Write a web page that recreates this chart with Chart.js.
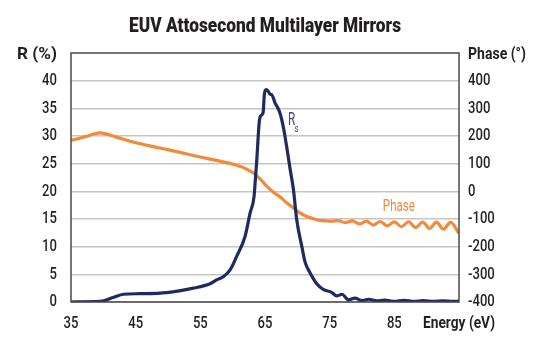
<!DOCTYPE html>
<html>
<head>
<meta charset="UTF-8">
<title>EUV Attosecond Multilayer Mirrors</title>
<script src="https://cdn.jsdelivr.net/npm/chart.js@4"></script>
<style>
  html, body { margin: 0; padding: 0; background: #fff; }
  #wrap { width: 556px; height: 348px; position: relative; }
</style>
</head>
<body>
<div id="wrap"><canvas id="mirrorChart"></canvas></div>
<script>
// Reflectivity (Rs) vs photon energy
const rEnergy = [35, 39.5, 41.5, 43.1, 45.7, 49.8, 53.9, 56.5, 57.5, 58.6, 59.6, 60.6, 61.9, 62.7, 63.3, 63.5, 63.7, 64.1, 64.3, 64.7, 64.9, 65.15, 65.5, 65.8, 66.0, 66.55, 67.3, 67.8, 68.35, 68.9, 69.4, 69.9, 70.7, 71.2, 72.0, 73.0, 74.0, 75.3, 76.1, 76.9, 77.9, 78.9, 80.0, 81.0, 82.3, 83.5, 85.0, 86.5, 88.0, 89.5, 91.0, 92.5, 94.0, 95];
const rValues = [0, 0.1, 0.8, 1.4, 1.5, 1.7, 2.5, 3.3, 4.0, 4.6, 5.8, 8.2, 11.8, 16.1, 19.0, 22.0, 25.1, 32.4, 33.6, 34.2, 37.5, 38.4, 38.1, 37.5, 37.5, 36.0, 34.2, 31.8, 28.1, 23.9, 20.3, 14.9, 10.0, 7.2, 5.2, 3.3, 2.3, 1.75, 1.1, 1.4, 0.4, 0.7, 0.25, 0.5, 0.2, 0.35, 0.1, 0.3, 0.1, 0.25, 0.1, 0.2, 0.1, 0.15];

// Reflection phase (degrees)
const phaseEnergy = [35, 37, 39.5, 42, 44.1, 47, 50.3, 55, 58, 60.5, 62.2, 63.2, 64.2, 65.3, 66.3, 67.3, 68.4, 69.4, 70.4, 71.45, 72.5, 73.5, 74.5, 75.4, 76.3, 77.4, 78.5, 79.6, 80.7, 81.75, 82.8, 83.9, 85.0, 86.1, 87.2, 88.3, 89.4, 90.45, 91.5, 92.6, 93.7, 95];
const phaseValues = [184, 196, 211, 196, 181, 165, 149, 124, 109, 95, 80, 66, 46, 18, -3, -20, -42, -60, -78, -91, -99, -105, -107, -108, -106, -113, -107, -118, -108, -122, -109, -125, -110, -128, -110, -131, -111, -134, -111, -137, -112, -152];

// Axis ticks
const energyTicks = [35, 45, 55, 65, 75, 85, 95];
const rTicks = [0, 5, 10, 15, 20, 25, 30, 35, 40];
const phaseTicks = [-400, -300, -200, -100, 0, 100, 200, 300, 400];

const NAVY = '#1f2b5f';
const ORANGE = '#f28a3a';
const INK = '#231f20';
const FONT = 'Roboto, "DejaVu Sans", sans-serif';

// draws text squeezed horizontally to mimic a condensed face
function narrowText(ctx, text, x, y, align, squeeze) {
  ctx.save();
  ctx.translate(x, y);
  ctx.scale(squeeze, 1);
  ctx.textAlign = align;
  ctx.textBaseline = 'middle';
  ctx.fillText(text, 0, 0);
  ctx.restore();
}

// same, but squeezed to a given width
function fitText(ctx, text, x, y, align, width) {
  narrowText(ctx, text, x, y, align, width / ctx.measureText(text).width);
}

// Title, captions, tick labels, series labels and the plot frame
const decorations = {
  id: 'decorations',
  afterDraw(chart) {
    const { ctx, chartArea: a, scales } = chart;
    ctx.save();
    ctx.strokeStyle = '#4a4a4a';
    ctx.lineWidth = 1.5;
    ctx.strokeRect(a.left, a.top, a.right - a.left, a.bottom - a.top);

    ctx.fillStyle = INK;
    ctx.font = '900 20px ' + FONT;
    fitText(ctx, 'EUV Attosecond Multilayer Mirrors', (a.left + a.right) / 2, 27, 'center', 272);

    ctx.font = 'bold 17px ' + FONT;
    fitText(ctx, 'R (%)', a.left - 14, 55, 'right', 40);
    fitText(ctx, 'Phase (\u00B0)', a.right + 9, 55, 'left', 58);

    ctx.font = '500 17px ' + FONT;
    scales.y.ticks.forEach(t => narrowText(ctx, String(t.value), a.left - 14, scales.y.getPixelForValue(t.value), 'right', 0.77));
    scales.y2.ticks.forEach(t => narrowText(ctx, String(t.value), a.right + 9, scales.y2.getPixelForValue(t.value), 'left', 0.77));
    scales.x.ticks.forEach(t => {
      const px = scales.x.getPixelForValue(t.value);
      if (t.value === 95) {
        ctx.font = 'bold 17px ' + FONT;
        fitText(ctx, 'Energy (eV)', px, 324, 'center', 72);
        ctx.font = '500 17px ' + FONT;
      } else {
        narrowText(ctx, String(t.value), px, 324, 'center', 0.77);
      }
    });

    ctx.fillStyle = '#3b4a7e';
    ctx.font = '18px ' + FONT;
    const rx = scales.x.getPixelForValue(69.1);
    const ry = scales.y.getPixelForValue(32.8);
    narrowText(ctx, 'R', rx, ry, 'center', 0.65);
    ctx.font = '10px ' + FONT;
    narrowText(ctx, 's', rx + 5, ry + 9, 'center', 0.8);

    ctx.fillStyle = ORANGE;
    ctx.font = '17px ' + FONT;
    fitText(ctx, 'Phase', scales.x.getPixelForValue(85.7), scales.y2.getPixelForValue(-56), 'center', 32);
    ctx.restore();
  }
};

new Chart(document.getElementById('mirrorChart'), {
  type: 'line',
  data: {
    datasets: [{
      label: 'Rs',
      data: rEnergy.map((e, i) => ({ x: e, y: rValues[i] })),
      borderColor: NAVY,
      borderWidth: 3.2,
      pointRadius: 0,
      cubicInterpolationMode: 'monotone',
      yAxisID: 'y'
    }, {
      label: 'Phase',
      data: phaseEnergy.map((e, i) => ({ x: e, y: phaseValues[i] })),
      borderColor: ORANGE,
      borderWidth: 3.2,
      pointRadius: 0,
      cubicInterpolationMode: 'monotone',
      yAxisID: 'y2'
    }]
  },
  options: {
    responsive: true,
    maintainAspectRatio: false,
    animation: false,
    layout: { padding: { top: 53, left: 0, right: 0, bottom: 0 } },
    plugins: { legend: { display: false }, tooltip: { enabled: false } },
    scales: {
      x: {
        type: 'linear',
        min: 35, max: 95,
        afterBuildTicks: s => { s.ticks = energyTicks.map(v => ({ value: v })); },
        afterFit: s => { s.height = 46; },
        grid: { display: false, drawTicks: false },
        border: { display: false },
        ticks: { display: false }
      },
      y: {
        position: 'left',
        min: 0, max: 45,
        afterBuildTicks: s => { s.ticks = rTicks.map(v => ({ value: v })); },
        afterFit: s => { s.width = 71; },
        grid: { color: '#c6c6c6', lineWidth: 1.5, drawTicks: false },
        border: { display: false },
        ticks: { display: false }
      },
      y2: {
        position: 'right',
        min: -400, max: 500,
        afterBuildTicks: s => { s.ticks = phaseTicks.map(v => ({ value: v })); },
        afterFit: s => { s.width = 97; },
        grid: { display: false, drawTicks: false },
        border: { display: false },
        ticks: { display: false }
      }
    }
  },
  plugins: [decorations]
});
</script>
</body>
</html>
